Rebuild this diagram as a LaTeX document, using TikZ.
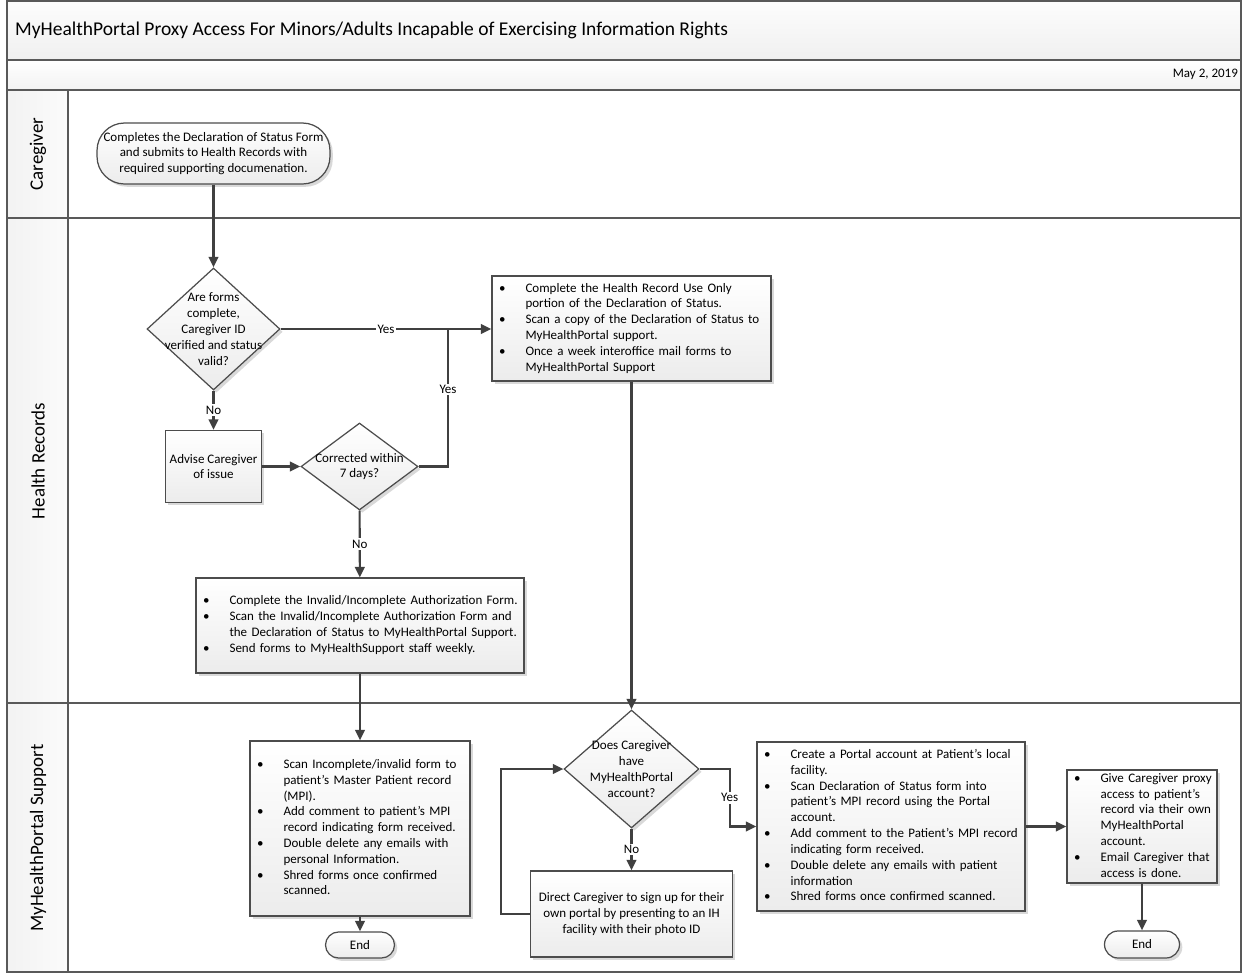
\documentclass[tikz,border=0pt]{standalone}
\usepackage{fontspec}
\setmainfont{Carlito}
\usepackage{array}
\usetikzlibrary{shapes.geometric,arrows.meta,shadows}

\newcommand{\bul}{\makebox[15.1pt][l]{\textbullet}}

\begin{document}
\begin{tikzpicture}[x=0.02cm, y=-0.02cm,
  frame/.style={draw=black!65, line width=0.9pt},
  txt/.style={font=\fontsize{7.4}{9}\selectfont},
  box/.style={txt, draw=black!70, line width=0.7pt, top color=white, bottom color=gray!15,
    drop shadow={shadow xshift=1.6pt, shadow yshift=-1.6pt, opacity=0.3}},
  procbox/.style={box, rectangle, align=center, inner sep=0pt},
  listbox/.style={box, rectangle, align=left, inner xsep=4pt, inner ysep=0pt, text width=#1},
  decision/.style={box, diamond, inner sep=0pt},
  term/.style={box, rectangle, rounded corners=#1, align=center, inner sep=0pt},
  line/.style={draw=black!75, line width=1.2pt, -{Triangle[length=6pt,width=5.5pt]}},
  lbl/.style={txt, fill=white, inner sep=1pt}]

\useasboundingbox (0,0) rectangle (1242,974);

\draw[frame, top color=gray!2, bottom color=gray!12] (7,1) rectangle (1241,60);
\draw[frame, top color=white, bottom color=gray!10] (7,60) rectangle (1241,90);
\draw[frame] (7,90) rectangle (1241,218);
\draw[frame] (7,218) rectangle (1241,703);
\draw[frame] (7,703) rectangle (1241,972);
\draw[frame, left color=gray!10, right color=gray!3] (7,90) rectangle (68,218);
\draw[frame, left color=gray!10, right color=gray!3] (7,218) rectangle (68,703);
\draw[frame, left color=gray!10, right color=gray!3] (7,703) rectangle (68,972);

\node[anchor=west, font=\fontsize{11.1}{13}\selectfont] (title) at (9,30)
  {MyHealthPortal Proxy Access For Minors/Adults Incapable of Exercising Information Rights};
\node[anchor=east, txt, inner xsep=1pt] (date) at (1240,74) {May 2, 2019};

\node[rotate=90, font=\fontsize{10.8}{12}\selectfont] (lanecg) at (38,154) {Caregiver};
\node[rotate=90, font=\fontsize{10.8}{12}\selectfont] (lanehr) at (38,461) {Health Records};
\node[rotate=90, font=\fontsize{10.8}{12}\selectfont] (lanemps) at (38,838) {MyHealthPortal Support};

\node[term=0.55cm, minimum width=4.66cm, minimum height=1.22cm] (start) at (213.5,153.5)
  {Completes the Declaration of Status Form\\and submits to Health Records with\\required supporting documenation.};

\node[decision, minimum width=2.66cm, minimum height=2.44cm] (formsok) at (213.5,329) {};
\node[txt, align=center] (formsoktext) at (formsok)
  {Are forms\\complete,\\Caregiver ID\\verified and status\\valid?};

\node[listbox=5.30cm, minimum height=2.10cm] (hrlist) at (631.5,328.5)
  {\begin{tabular}{@{}l@{}l@{}}
  \bul & Complete the Health Record Use Only\\
       & portion of the Declaration of Status.\\
  \bul & Scan a copy of the Declaration of Status to\\
       & MyHealthPortal support.\\
  \bul & Once a week interoffice mail forms to\\
       & MyHealthPortal Support
  \end{tabular}};

\node[procbox, minimum width=1.92cm, minimum height=1.44cm] (advise) at (213.5,466.5)
  {Advise Caregiver\\of issue};

\node[decision, minimum width=2.34cm, minimum height=1.74cm] (corrected) at (359.5,466.5) {};
\node[txt, align=center] (correctedtext) at (corrected) {Corrected within\\7 days?};
\coordinate (yesjoin) at (448,329);

\node[listbox=6.28cm, minimum height=1.90cm] (invalid) at (360,625.5)
  {\begin{tabular}{@{}l@{}l@{}}
  \bul & Complete the Invalid/Incomplete Authorization Form.\\
  \bul & Scan the Invalid/Incomplete Authorization Form and\\
       & the Declaration of Status to MyHealthPortal Support.\\
  \bul & Send forms to MyHealthSupport staff weekly.
  \end{tabular}};

\node[listbox=4.12cm, minimum height=3.50cm] (mpi) at (360,828.5)
  {\begin{tabular}{@{}l@{}l@{}}
  \bul & Scan Incomplete/invalid form to\\
       & patient’s Master Patient record\\
       & (MPI).\\
  \bul & Add comment to patient’s MPI\\
       & record indicating form received.\\
  \bul & Double delete any emails with\\
       & personal Information.\\
  \bul & Shred forms once confirmed\\
       & scanned.
  \end{tabular}};

\node[term=0.26cm, minimum width=1.38cm, minimum height=0.52cm] (end1) at (360,945) {End};

\node[decision, minimum width=2.70cm, minimum height=2.36cm] (portalq) at (631.5,769) {};
\node[txt, align=center] (portalqtext) at (portalq)
  {Does Caregiver\\have\\MyHealthPortal\\account?};

\node[procbox, minimum width=4.04cm, minimum height=1.72cm] (direct) at (631.5,914)
  {Direct Caregiver to sign up for their\\own portal by presenting to an IH\\facility with their photo ID};

\node[listbox=5.08cm, minimum height=3.38cm] (create) at (891,826.5)
  {\begin{tabular}{@{}l@{}l@{}}
  \bul & Create a Portal account at Patient’s local\\
       & facility.\\
  \bul & Scan Declaration of Status form into\\
       & patient’s MPI record using the Portal\\
       & account.\\
  \bul & Add comment to the Patient’s MPI record\\
       & indicating form received.\\
  \bul & Double delete any emails with patient\\
       & information\\
  \bul & Shred forms once confirmed scanned.
  \end{tabular}};

\node[listbox=2.72cm, minimum height=2.26cm] (give) at (1142,826.5)
  {\begin{tabular}{@{}l@{}l@{}}
  \bul & Give Caregiver proxy\\
       & access to patient’s\\
       & record via their own\\
       & MyHealthPortal\\
       & account.\\
  \bul & Email Caregiver that\\
       & access is done.
  \end{tabular}};

\node[term=0.27cm, minimum width=1.50cm, minimum height=0.54cm] (end2) at (1142,944.5) {End};

\draw[line] (start) -- (formsok);
\draw[line] (formsok.east) -- node[lbl]{Yes} (formsok.east -| hrlist.west);
\draw[line, -] (corrected.east) -| node[pos=0.78, lbl]{Yes} (yesjoin);
\draw[line] (formsok) -- node[lbl]{No} (advise);
\draw[line] (advise) -- (corrected);
\draw[line] (corrected) -- node[lbl]{No} (invalid);
\draw[line] (invalid) -- (mpi);
\draw[line] (mpi) -- (end1);
\draw[line] (hrlist) -- (portalq);
\draw[line] (portalq.east) -- ++(30,0) |- node[pos=0.25, lbl]{Yes} (create.west);
\draw[line] (portalq) -- node[lbl]{No} (direct);
\draw[line] (direct.west) -- ++(-29,0) |- (portalq.west);
\draw[line] (create) -- (give);
\draw[line] (give) -- (end2);
\end{tikzpicture}
\end{document}
